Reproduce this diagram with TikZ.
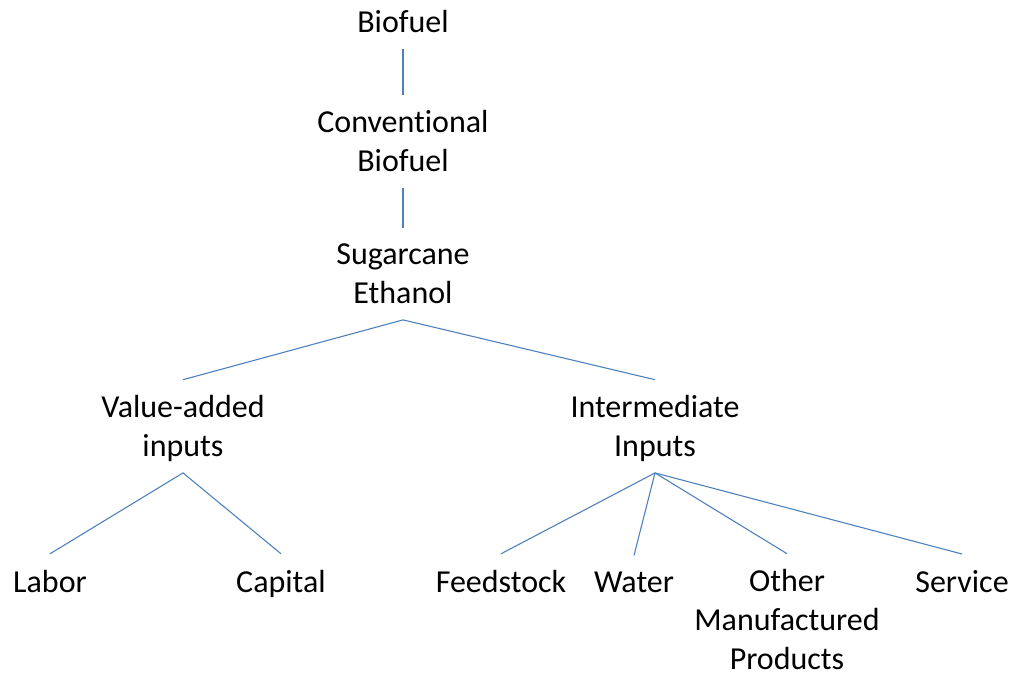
\documentclass[tikz,border=0pt]{standalone}
\usepackage{fontspec}
\setmainfont[Ligatures=NoCommon,RawFeature={-calt;-dlig}]{Carlito}
\definecolor{linkblue}{RGB}{79,129,189}
\begin{document}
\begin{tikzpicture}[x=1pt,y=-1pt,
  lbl/.style={font=\fontsize{32}{39}\selectfont, align=center, text depth=0pt,
              inner xsep=2pt, inner ysep=16pt, outer sep=0pt},
  leaf/.style={lbl, anchor=base},
  link/.style={draw=linkblue, line width=1.1pt}]
  \useasboundingbox (0,0) rectangle (1020,681);

  % tree labels
  \node[lbl] (bio)  at (403,21.8)  {Biofuel};
  \node[lbl] (conv) at (403,141.3) {Conventional\\Biofuel};
  \node[lbl] (sug)  at (403,274)   {Sugarcane\\Ethanol};
  \node[lbl] (va)   at (183,426.3) {Value-added\\inputs};
  \node[lbl] (ii)   at (655,426.3) {Intermediate\\Inputs};

  \node[leaf] (lab)  at (50,592)  {Labor};
  \node[leaf] (cap)  at (281,592) {Capital};
  \node[leaf] (feed) at (501,592) {Feedstock};
  \node[leaf] (wat)  at (634,592) {Water};
  \node[lbl]  (oth)  at (787,619.8) {Other\\Manufactured\\Products};
  \node[leaf] (serv) at (962,592) {Service};

  % connectors
  \draw[link] (bio.south) -- (conv.north);
  \draw[link] (conv.south) -- (sug.north);
  \draw[link] (va.north) -- (sug.south) -- (ii.north);
  \draw[link] (lab.north) -- (va.south) -- (cap.north);
  \draw[link] (ii.south) -- (feed.north);
  \draw[link] (ii.south) -- (wat.north);
  \draw[link] (ii.south) -- (oth.north);
  \draw[link] (ii.south) -- (serv.north);
\end{tikzpicture}
\end{document}
